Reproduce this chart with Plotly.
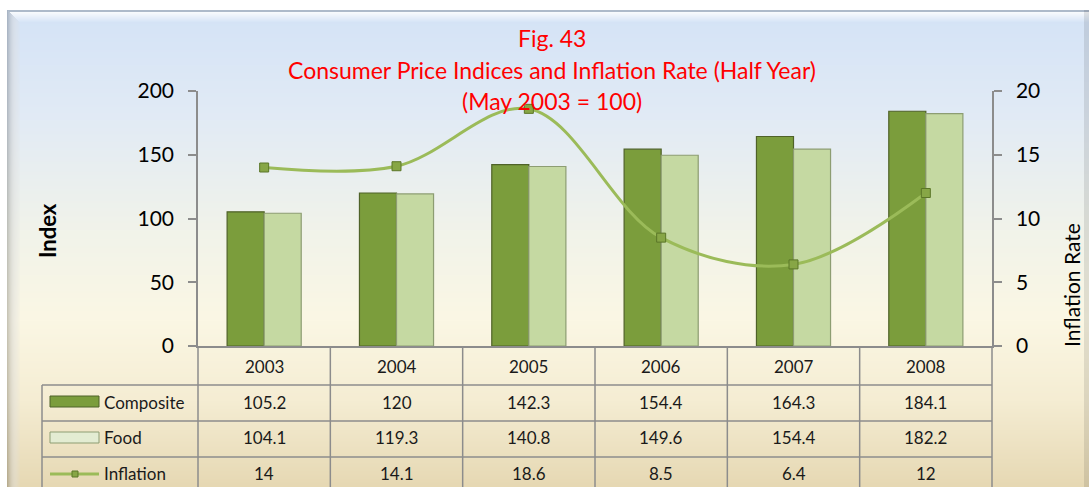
import zlib, struct, base64
import numpy as np
import plotly.graph_objects as go

# ---------------- data ----------------
years = ["2003", "2004", "2005", "2006", "2007", "2008"]
composite = [105.2, 120, 142.3, 154.4, 164.3, 184.1]
food = [104.1, 119.3, 140.8, 149.6, 154.4, 182.2]
inflation = [14, 14.1, 18.6, 8.5, 6.4, 12]
series_names = ["Composite", "Food", "Inflation"]

# ---------------- geometry helpers ----------------
W, H = 1089, 487
PL, PR, PT, PB = 198, 992, 91, 346  # plot area in pixels


def px(x):
    return (x - PL) / (PR - PL)


def py(y):
    return (PB - y) / (PB - PT)


# ---------------- background image (gradient + bevel frame) ----------------
def hex2rgb(h):
    h = h.lstrip("#")
    return [int(h[i:i + 2], 16) for i in (0, 2, 4)]


stops_y = [10, 120, 230, 320, 400, 487]
stops_c = [hex2rgb(c) for c in ["#d4e3f7", "#e2ebf5", "#f1f3ea", "#fbf7e4", "#f5edd3", "#e6d8b3"]]
ys = np.arange(H)
base = np.stack([np.interp(ys, stops_y, [c[k] for c in stops_c]) for k in range(3)], axis=1)
img = np.repeat(base[:, None, :], W, axis=1)

X, Y = np.meshgrid(np.arange(W), np.arange(H))
white = np.array([255.0, 255.0, 255.0])
# left bevel
lt = np.clip((X - 7) / 13.0, 0, 1)
left_mask = (X >= 7) & (X < 20) & ((X - 7) <= (Y - 10))
fac = (0.80 + 0.20 * lt)[..., None]
wmix = (0.35 * np.sin(np.pi * lt))[..., None]
left_col = img * fac * (1 - wmix) + white * wmix
img = np.where(left_mask[..., None], left_col, img)
# top bevel
tt = np.clip((Y - 10) / 12.0, 0, 1)
top_mask = (Y >= 10) & (Y < 22) & (X >= 7) & ((X - 7) > (Y - 10))
tw = np.where(tt < 0.15, 0.0, 0.85 * np.clip((1 - tt) / 0.85, 0, 1))[..., None]
tfac = np.where(tt < 0.15, 0.82, 1.0)[..., None]
top_col = img * tfac * (1 - tw) + white * tw
img = np.where(top_mask[..., None], top_col, img)
# right edge
rmask = (X >= 1084)
img = np.where(rmask[..., None], img * 0.9, img)
# outside frame white
outside = (X < 7) | (Y < 10)
img = np.where(outside[..., None], white, img)
img = np.clip(img, 0, 255).astype(np.uint8)


def png_uri(arr):
    h, w, _ = arr.shape
    raw = b"".join(b"\x00" + arr[r].tobytes() for r in range(h))

    def chunk(t, d):
        c = struct.pack(">I", len(d)) + t + d
        return c + struct.pack(">I", zlib.crc32(t + d) & 0xFFFFFFFF)

    png = (b"\x89PNG\r\n\x1a\n"
           + chunk(b"IHDR", struct.pack(">IIBBBBB", w, h, 8, 2, 0, 0, 0))
           + chunk(b"IDAT", zlib.compress(raw, 9))
           + chunk(b"IEND", b""))
    return "data:image/png;base64," + base64.b64encode(png).decode()


# ---------------- figure ----------------
FONT = "Lato"
comp_fill, comp_line = "#7b9d3c", "#4f6228"
food_fill, food_line = "#c5d9a2", "#8d9d72"
inf_line, inf_mark, inf_mark_line = "#9bbb59", "#87a646", "#5b7628"
grid_col = "#8c8c8c"

fig = go.Figure()
fig.add_trace(go.Bar(x=years, y=composite, name=series_names[0],
                     marker=dict(color=comp_fill, line=dict(color=comp_line, width=1.2)),
                     showlegend=False))
fig.add_trace(go.Bar(x=years, y=food, name=series_names[1],
                     marker=dict(color=food_fill, line=dict(color=food_line, width=1.2)),
                     showlegend=False))
fig.add_trace(go.Scatter(x=years, y=inflation, name=series_names[2], yaxis="y2",
                         mode="lines+markers",
                         line=dict(color=inf_line, width=3, shape="spline", smoothing=1.0),
                         marker=dict(symbol="square", size=9, color=inf_mark,
                                     line=dict(color=inf_mark_line, width=1)),
                         showlegend=False))

shapes = []
annotations = []

# title
for txt, yy in [("Fig. 43", 38), ("Consumer Price Indices and Inflation Rate (Half Year)", 70),
                ("(May 2003 = 100)", 101)]:
    annotations.append(dict(text=txt, x=px(552), y=py(yy), xref="paper", yref="paper",
                            showarrow=False, xanchor="center", yanchor="middle",
                            font=dict(family=FONT, size=23, color="#ff0000")))

# axis titles
annotations.append(dict(text="<b>Index</b>", x=px(47), y=py(231), xref="paper", yref="paper",
                        showarrow=False, textangle=-90, xanchor="center", yanchor="middle",
                        font=dict(family=FONT, size=22, color="#000000")))
annotations.append(dict(text="Inflation Rate", x=px(1071), y=py(285), xref="paper", yref="paper",
                        showarrow=False, textangle=-90, xanchor="center", yanchor="middle",
                        font=dict(family=FONT, size=21, color="#000000")))

# ---------------- data table ----------------
row_lines = [385, 421, 457]
table_bottom = 495
n = len(years)
for yl in row_lines:
    shapes.append(dict(type="line", xref="paper", yref="paper", x0=px(42), x1=px(PR),
                       y0=py(yl), y1=py(yl), line=dict(color=grid_col, width=1.5)))
for k in range(n + 1):
    shapes.append(dict(type="line", xref="paper", yref="paper", x0=k / n, x1=k / n,
                       y0=py(PB), y1=py(table_bottom), line=dict(color=grid_col, width=1.5)))
shapes.append(dict(type="line", xref="paper", yref="paper", x0=px(42), x1=px(42),
                   y0=py(385), y1=py(table_bottom), line=dict(color=grid_col, width=1.5)))

row_centers = [366, 402, 437, 473]
TF = dict(family=FONT, size=17, color="#1a1a1a")
for i, yr in enumerate(years):
    annotations.append(dict(text=yr, x=i, xref="x", y=py(row_centers[0]), yref="paper",
                            showarrow=False, xanchor="center", yanchor="middle", font=TF))
    for r, vals in enumerate([composite, food, inflation]):
        annotations.append(dict(text=f"{vals[i]:g}", x=i, xref="x", y=py(row_centers[r + 1]),
                                yref="paper", showarrow=False, xanchor="center",
                                yanchor="middle", font=TF))

# legend keys in table
shapes.append(dict(type="rect", xref="paper", yref="paper", x0=px(50), x1=px(99),
                   y0=py(396), y1=py(407), fillcolor=comp_fill, line=dict(color=comp_line, width=1)))
shapes.append(dict(type="rect", xref="paper", yref="paper", x0=px(50), x1=px(99),
                   y0=py(432), y1=py(443), fillcolor="#e3ecd2", line=dict(color=food_line, width=1)))
shapes.append(dict(type="line", xref="paper", yref="paper", x0=px(50), x1=px(99),
                   y0=py(474), y1=py(474), line=dict(color=inf_line, width=3)))
shapes.append(dict(type="rect", xref="paper", yref="paper", x0=px(72), x1=px(78),
                   y0=py(471), y1=py(477), fillcolor=inf_mark, line=dict(color=inf_mark_line, width=1)))
for r, name in enumerate(series_names):
    annotations.append(dict(text=name, x=px(102), y=py(row_centers[r + 1]), xref="paper",
                            yref="paper", showarrow=False, xanchor="left", yanchor="middle",
                            font=dict(family=FONT, size=17, color="#1a1a1a")))

fig.update_layout(
    width=W, height=H,
    margin=dict(l=PL, r=W - PR, t=PT, b=H - PB, pad=0, autoexpand=False),
    paper_bgcolor="#ffffff", plot_bgcolor="rgba(0,0,0,0)",
    barmode="group", bargap=0.44, bargroupgap=0.0,
    font=dict(family=FONT, color="#000000"),
    xaxis=dict(type="category", range=[-0.5, n - 0.5], showticklabels=False, ticks="",
               showline=True, linecolor=grid_col, linewidth=1.5, showgrid=False, zeroline=False),
    yaxis=dict(range=[0, 200], dtick=50, showline=True, linecolor=grid_col, linewidth=1.5,
               ticks="outside", ticklen=8, tickwidth=1.5, tickcolor=grid_col,
               showgrid=False, zeroline=False, tickfont=dict(family=FONT, size=21, color="#000"),
               ticklabelstandoff=10),
    yaxis2=dict(range=[0, 20], dtick=5, overlaying="y", side="right", showline=True,
                linecolor=grid_col, linewidth=1.5, ticks="outside", ticklen=8, tickwidth=1.5,
                tickcolor=grid_col, showgrid=False, zeroline=False,
                tickfont=dict(family=FONT, size=21, color="#000"), ticklabelstandoff=10),
    shapes=shapes,
    annotations=annotations,
    images=[dict(source=png_uri(img), xref="paper", yref="paper", x=px(0), y=py(0),
                 sizex=W / (PR - PL), sizey=H / (PB - PT), xanchor="left", yanchor="top",
                 sizing="stretch", layer="below")],
)

fig.write_html("out.html", config={"displayModeBar": False},
               post_script="document.body.style.margin='0px';document.body.style.overflow='hidden';")
